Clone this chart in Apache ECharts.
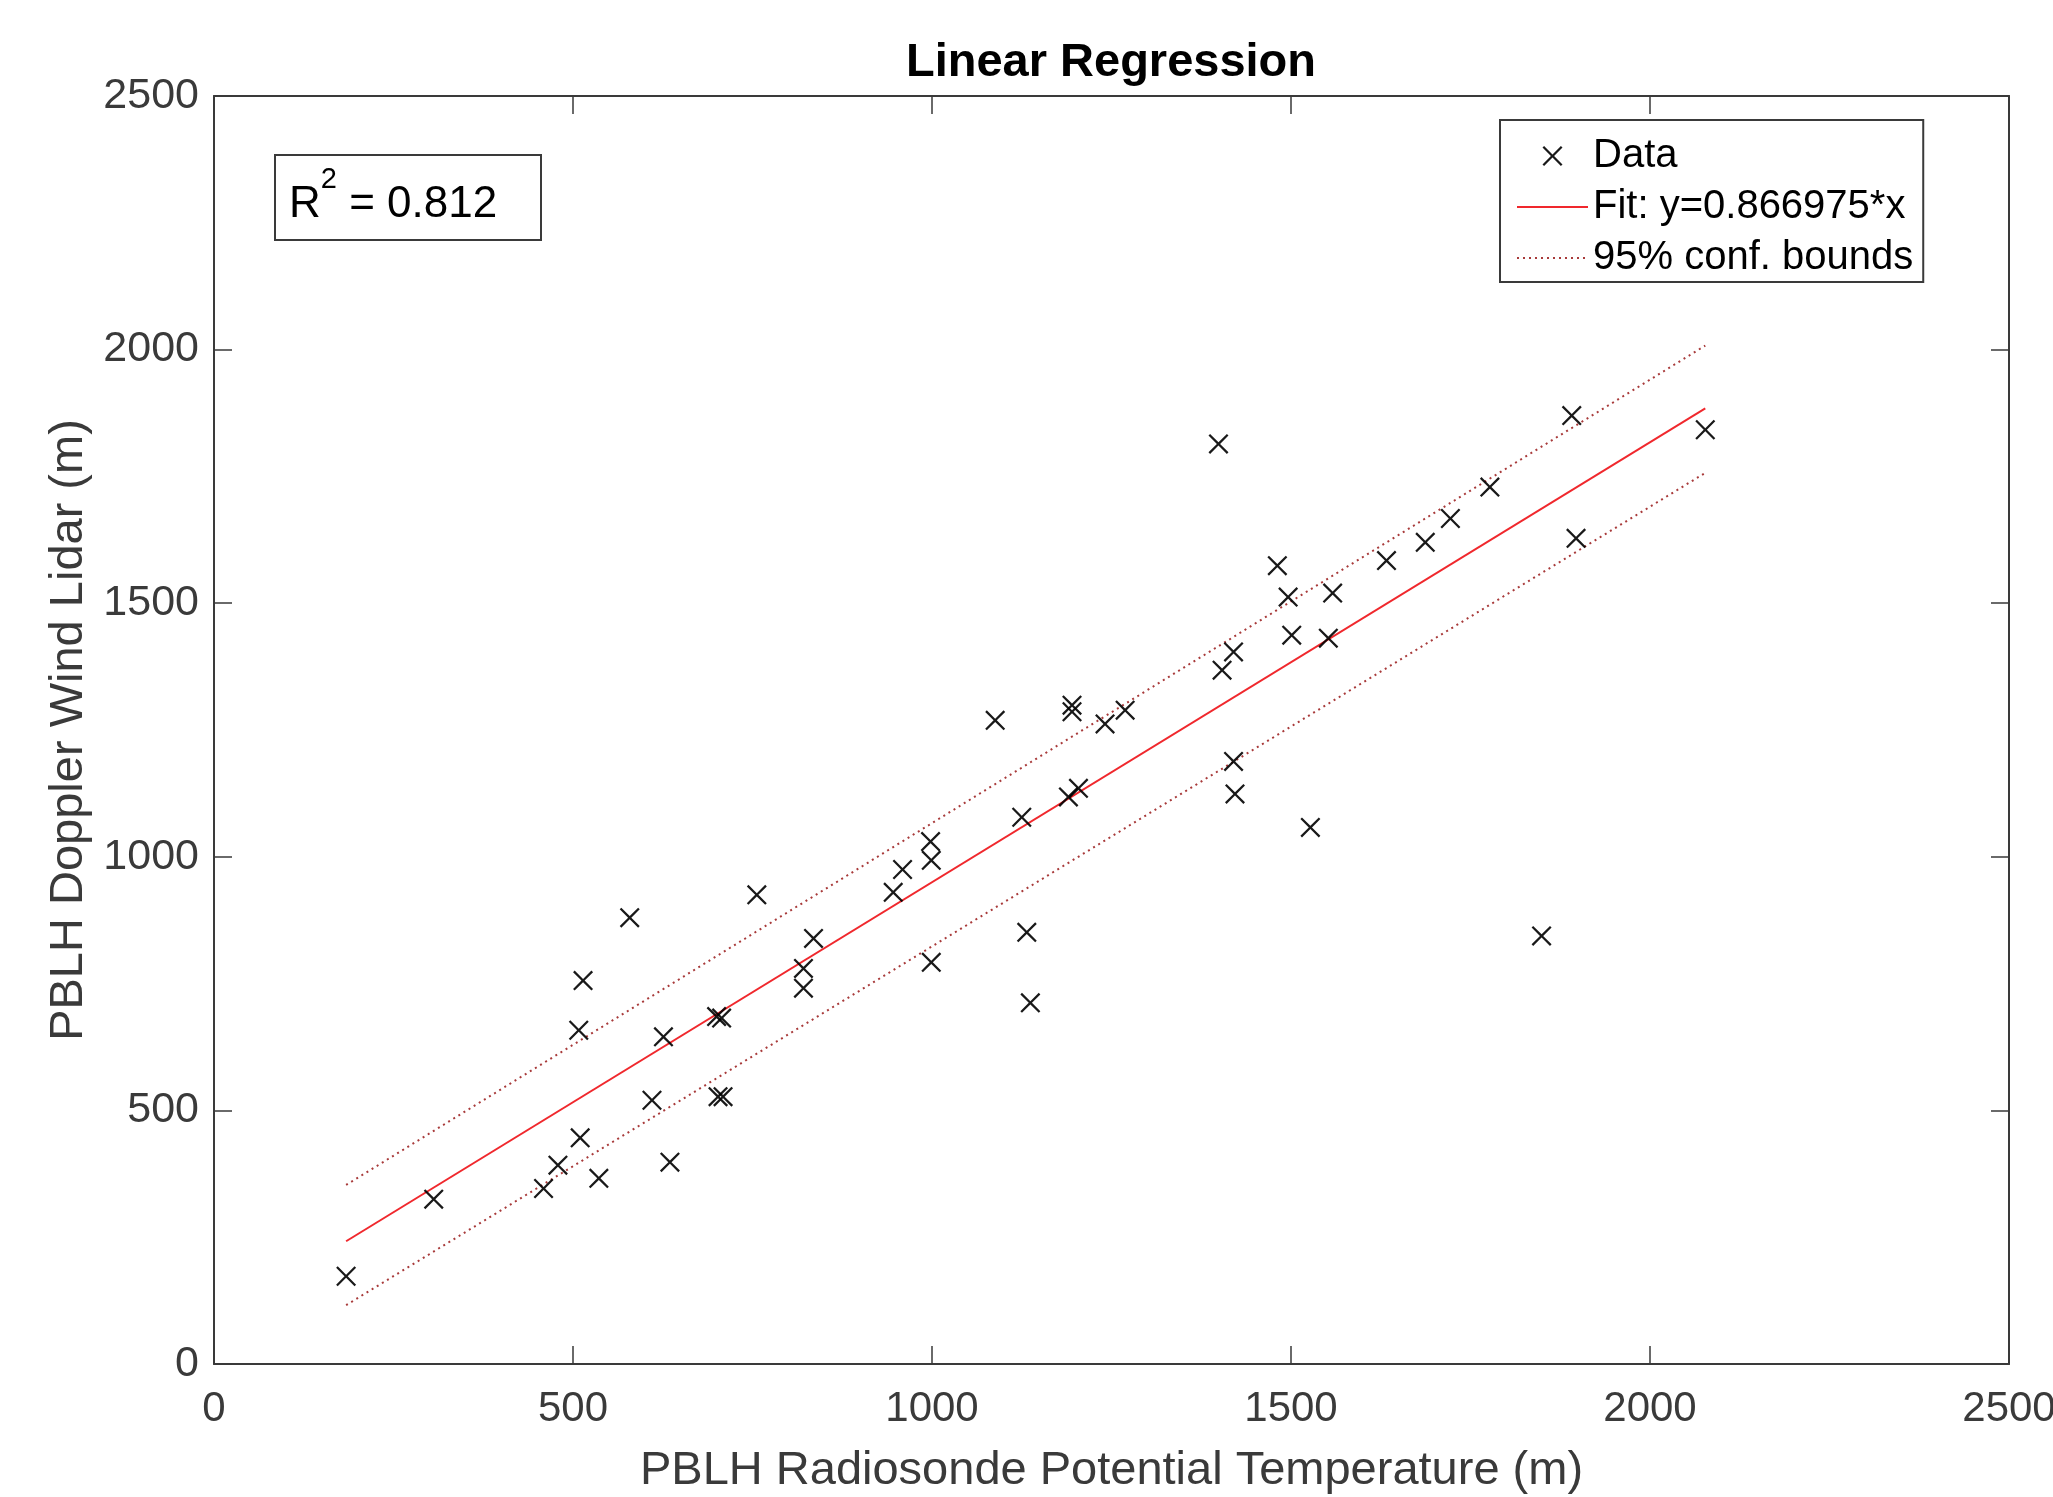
<!DOCTYPE html>
<html>
<head>
<meta charset="utf-8">
<script src="https://cdn.jsdelivr.net/npm/echarts@6/dist/echarts.min.js"></script>
<style>
html,body{margin:0;padding:0;background:#fff;}
#chart{width:2053px;height:1497px;}
</style>
</head>
<body>
<div id="chart"></div>
<script>
// Data
const dataX = [184,306,459,479,510,536,508,514,579,610,626,635,702,709,700,707,756,821,821,835,946,959,998,999,999,1088,1125,1132,1137,1195,1195,1190,1204,1241,1269,1399,1404,1420,1420,1422,1481,1496,1501,1527,1552,1558,1633,1687,1722,1777,1849,1891,1897,2077];
const dataY = [173,325,346,392,446,366,658,756,880,520,645,398,527,527,685,682,925,741,780,839,930,975,1030,993,792,1269,1078,851,712,1299,1286,1118,1135,1262,1289,1814,1368,1404,1188,1124,1574,1512,1437,1058,1431,1520,1584,1620,1667,1729,844,1870,1628,1842];
const fitX = [184, 2077];
const fitY = [242, 1884];
const upperY = [353, 2008];
const lowerY = [116, 1757];
const axisMin = 0, axisMax = 2500, axisStep = 500;
const titleText = 'Linear Regression';
const xTitle = 'PBLH Radiosonde Potential Temperature (m)';
const yTitle = 'PBLH Doppler Wind Lidar (m)';
const seriesNames = ['Data', 'Fit: y=0.866975*x', '95% conf. bounds'];
const r2Value = '0.812';

const FONT = 'Liberation Sans, Arial, Helvetica, sans-serif';
const AX = '#3a3a3a';
const xMark = 'path://M0,8L8,0L50,42L92,0L100,8L58,50L100,92L92,100L50,58L8,100L0,92L42,50Z';

const pairs = (xs, ys) => xs.map((x, i) => [x, ys[i]]);
const plainLabel = v => String(v);

function baseAxis(extra) {
  return Object.assign({
    type: 'value', min: axisMin, max: axisMax, interval: axisStep,
    splitLine: { show: false },
    axisLine: { show: true, onZero: false, lineStyle: { color: AX, width: 2 } },
    axisTick: { show: true, inside: true, length: 18, lineStyle: { color: AX, width: 1.5 } },
    axisLabel: { show: false }
  }, extra);
}

const chart = echarts.init(document.getElementById('chart'), null, { renderer: 'canvas' });
chart.setOption({
  animation: false,
  backgroundColor: '#fff',
  title: [
    { text: titleText, left: 1111, top: 40, textAlign: 'center', padding: 0,
      textStyle: { fontFamily: FONT, fontSize: 47, fontWeight: 'bold', color: '#000' } },
    { text: '{r|R}{s|2}{r| = ' + r2Value + '}', left: 275, top: 155, padding: [10, 44, 13, 14],
      borderColor: AX, borderWidth: 2, backgroundColor: '#fff',
      textStyle: { fontWeight: 'normal', rich: {
        r: { fontFamily: FONT, fontSize: 44, fontWeight: 'normal', color: '#000', lineHeight: 62, verticalAlign: 'bottom' },
        s: { fontFamily: FONT, fontSize: 29, fontWeight: 'normal', color: '#000', lineHeight: 34, verticalAlign: 'top' }
      } } }
  ],
  grid: { left: 214, right: 44, top: 96, bottom: 133, containLabel: false, outerBoundsMode: 'none' },
  legend: {
    orient: 'vertical', left: 1500, top: 120,
    padding: [14, 10, 2, 16], itemGap: 7, itemWidth: 71, itemHeight: 20,
    backgroundColor: '#fff', borderColor: AX, borderWidth: 2,
    textStyle: { fontFamily: FONT, fontSize: 40, color: '#000', lineHeight: 44 },
    data: seriesNames
  },
  xAxis: [
    baseAxis({ position: 'bottom',
      axisLabel: { show: true, margin: 24, fontFamily: FONT, fontSize: 42, color: AX, formatter: plainLabel },
      name: xTitle, nameLocation: 'middle', nameGap: 84,
      nameTextStyle: { fontFamily: FONT, fontSize: 47, color: AX } }),
    baseAxis({ position: 'top' })
  ],
  yAxis: [
    baseAxis({ position: 'left',
      axisLabel: { show: true, margin: 15, fontFamily: FONT, fontSize: 43, color: AX, formatter: plainLabel },
      name: yTitle, nameLocation: 'middle', nameGap: 112,
      nameTextStyle: { fontFamily: FONT, fontSize: 47, color: AX } }),
    baseAxis({ position: 'right' })
  ],
  series: [
    { name: seriesNames[0], type: 'scatter', xAxisIndex: 0, yAxisIndex: 0,
      symbol: xMark, symbolSize: 20, itemStyle: { color: '#000', opacity: 0.9 },
      data: pairs(dataX, dataY), z: 5 },
    { name: seriesNames[1], type: 'line', xAxisIndex: 0, yAxisIndex: 0,
      symbol: 'none', itemStyle: { color: 'rgba(0,0,0,0)', opacity: 0 },
      lineStyle: { color: '#f0282d', width: 2, type: 'solid' },
      data: pairs(fitX, fitY), z: 3 },
    { name: seriesNames[2], type: 'line', xAxisIndex: 0, yAxisIndex: 0,
      symbol: 'none', itemStyle: { color: 'rgba(0,0,0,0)', opacity: 0 },
      lineStyle: { color: '#a83a3a', width: 2, type: [2, 4] },
      data: pairs(fitX, upperY), z: 2 },
    { name: seriesNames[2], type: 'line', xAxisIndex: 0, yAxisIndex: 0,
      symbol: 'none', itemStyle: { color: 'rgba(0,0,0,0)', opacity: 0 },
      lineStyle: { color: '#a83a3a', width: 2, type: [2, 4] },
      data: pairs(fitX, lowerY), z: 2 }
  ]
});
</script>
</body>
</html>
